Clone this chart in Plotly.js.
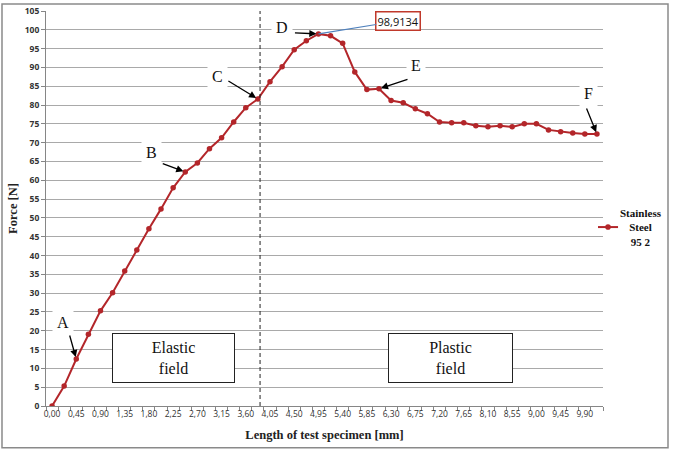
<!DOCTYPE html>
<html>
<head>
<meta charset="utf-8">
<script src="https://cdn.plot.ly/plotly-3.0.1.min.js"></script>
<style>html,body{margin:0;padding:0;background:#fff;}#chart{width:675px;height:452px;}</style>
</head>
<body>
<div id="chart"></div>
<script>
// Length of test specimen [mm] (category positions)
const lengthMm = [0.000,0.225,0.450,0.675,0.900,1.125,1.350,1.575,1.800,2.025,2.250,2.475,2.700,2.925,3.150,3.375,3.600,3.825,4.050,4.275,4.500,4.725,4.950,5.175,5.400,5.625,5.850,6.075,6.300,6.525,6.750,6.975,7.200,7.425,7.650,7.875,8.100,8.325,8.550,8.775,9.000,9.225,9.450,9.675,9.900,10.125];
// Force [N]
const forceN = [0,5.3,12.5,19.1,25.3,30.1,35.9,41.5,47.1,52.4,58.0,62.2,64.6,68.4,71.3,75.5,79.3,81.6,86.2,90.2,94.7,97.1,98.9134,98.4,96.4,88.8,84.1,84.3,81.2,80.6,79.0,77.7,75.5,75.3,75.3,74.5,74.2,74.5,74.2,75.0,75.0,73.4,72.9,72.6,72.3,72.3];
const seriesName = 'Stainless Steel 95 2';
const xTickVals = [0,0.45,0.9,1.35,1.8,2.25,2.7,3.15,3.6,4.05,4.5,4.95,5.4,5.85,6.3,6.75,7.2,7.65,8.1,8.55,9.0,9.45,9.9];
const xTickLabels = ['0,00','0,45','0,90','1,35','1,80','2,25','2,70','3,15','3,60','4,05','4,50','4,95','5,40','5,85','6,30','6,75','7,20','7,65','8,10','8,55','9,00','9,45','9,90'];
const pointLabels = ['A','B','C','D','E','F'];
const pointIdx = [2,11,17,22,27,45];
const peakLabel = '98,9134';
const fieldLabels = ['Elastic<br>field','Plastic<br>field'];
const boundaryMm = 3.865;

const red = '#b3262a';
const serif = 'Liberation Serif, Times New Roman, serif';
const sans = 'Open Sans, Liberation Sans, sans-serif';

const trace = {
  x: lengthMm, y: forceN, type: 'scatter', mode: 'lines+markers',
  name: seriesName, showlegend: false,
  line: {color: red, width: 2},
  marker: {color: red, size: 5.5}
};

// label text positions (data coords) and arrow tail offsets (px)
const labelPos = [[0.20,22.3],[1.84,67.3],[3.08,87.5],[4.27,100.5],[6.76,90.4],[9.96,83.2]];
const arrowOff = [[-7,-25],[-24,-9],[-31,-19],[-25,-1],[30,-10],[-11,-27]];

const annotations = [];
pointLabels.forEach((t,i)=>{
  annotations.push({x: labelPos[i][0], y: labelPos[i][1], xref:'x', yref:'y', text: t, showarrow:false,
    font:{family: serif, size: 16, color:'#111'}, bgcolor:'#fff', borderpad: 4});
});
pointIdx.forEach((k,i)=>{
  annotations.push({x: lengthMm[k], y: forceN[k], xref:'x', yref:'y', text:'', showarrow:true,
    ax: arrowOff[i][0], ay: arrowOff[i][1], arrowhead:2, arrowsize:1.1, arrowwidth:1.3, arrowcolor:'#000', standoff: 2});
});
annotations.push({x: lengthMm[22], y: forceN[22], xref:'x', yref:'y', text: peakLabel, showarrow:true,
  ax: 80, ay: -13, arrowhead:0, arrowwidth:1.2, arrowcolor:'#4f81bd',
  font:{family: sans, size: 11, color:'#111'}, bgcolor:'#fff', bordercolor:'#c0392b', borderwidth:1.5, borderpad:1});
annotations.push({x: 2.257, y: 12.77, xref:'x', yref:'y', text: fieldLabels[0], showarrow:false,
  width:121, height:48, font:{family: serif, size: 16, color:'#111'}, bgcolor:'#fff', bordercolor:'#222', borderwidth:1, borderpad:0});
annotations.push({x: 7.41, y: 12.77, xref:'x', yref:'y', text: fieldLabels[1], showarrow:false,
  width:123, height:48, font:{family: serif, size: 16, color:'#111'}, bgcolor:'#fff', bordercolor:'#222', borderwidth:1, borderpad:0});
// legend text
annotations.push({x: 1.068, y: 0.453, xref:'paper', yref:'paper', xanchor:'center', yanchor:'middle',
  text:'Stainless<br>Steel<br>95 2', showarrow:false,
  align:'center', font:{family: serif, size: 11, color:'#111', weight:'bold'}});

const shapes = [
  {type:'line', xref:'x', yref:'paper', x0: boundaryMm, x1: boundaryMm, y0:0, y1:1, line:{color:'#222', width:1, dash:'4px,3px'}},
  {type:'rect', xref:'paper', yref:'paper', x0:-0.079, x1:1.1167, y0:-0.106, y1:1.0177, line:{color:'#8a8a8a', width:1.5}, layer:'below'},
  {type:'line', xref:'paper', yref:'paper', x0:0.991, x1:1.027, y0:0.453, y1:0.453, line:{color:red, width:2}},
  {type:'circle', xref:'paper', yref:'paper', xsizemode:'pixel', ysizemode:'pixel', xanchor:1.009, yanchor:0.453,
    x0:-2.8, x1:2.8, y0:-2.8, y1:2.8, fillcolor:red, line:{color:red, width:0}}
];

const layout = {
  width: 675, height: 452,
  margin: {l:46, r:72, t:11, b:46},
  paper_bgcolor:'#fff', plot_bgcolor:'#fff',
  separators: ',.',
  showlegend: false,
  xaxis: {
    range: [-0.1125, 10.2375], tickmode:'array', tickvals: xTickVals, ticktext: xTickLabels,
    showgrid:false, zeroline:false, showline:true, linecolor:'#868686', linewidth:1,
    ticks:'', tickfont:{family: sans, size: 8.5, color:'#333'},
    minor:{tickmode:'linear', tick0:-0.1125, dtick:0.225, ticks:'outside', ticklen:4, tickcolor:'#868686', showgrid:false},
    title:{text:'Length of test specimen [mm]', font:{family: serif, size: 12.5, color:'#222', weight:'bold'}, standoff: 12}
  },
  yaxis: {
    range:[0,105], dtick:5, tick0:0,
    showgrid:true, gridcolor:'#a9a9a9', gridwidth:1, zeroline:false,
    showline:true, linecolor:'#868686', linewidth:1,
    ticks:'outside', ticklen:4, tickcolor:'#868686',
    tickfont:{family: sans, size: 8.5, color:'#333', weight:'bold'},
    title:{text:'Force [N]', font:{family: serif, size: 12.5, color:'#222', weight:'bold'}, standoff: 4}
  },
  annotations: annotations,
  shapes: shapes
};

Plotly.newPlot('chart', [trace], layout, {staticPlot:true, displayModeBar:false});
</script>
</body>
</html>
